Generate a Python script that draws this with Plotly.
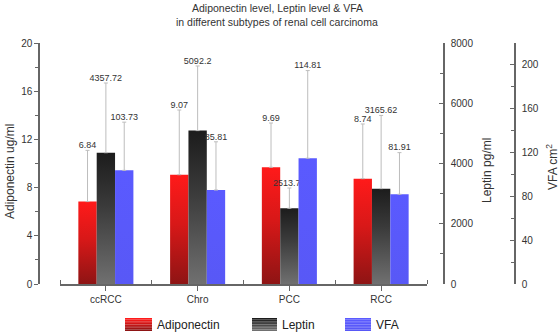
import plotly.graph_objects as go

# ---------------- data ----------------
categories = ["ccRCC", "Chro", "PCC", "RCC"]
adiponectin = [6.84, 9.07, 9.69, 8.74]
adiponectin_err = [4.25, 5.37, 3.67, 4.54]
leptin = [4357.72, 5092.2, 2513.76, 3165.62]
leptin_err = [2314, 2145, 673, 2430]
vfa = [103.73, 85.81, 114.81, 81.91]
vfa_err = [44, 44, 80, 38]

adipo_ticks = [0, 4, 8, 12, 16, 20]
leptin_ticks = [0, 2000, 4000, 6000, 8000]
vfa_ticks = [0, 40, 80, 120, 160, 200]

title_lines = ["Adiponectin level, Leptin level & VFA",
               "in different subtypes of renal cell carcinoma"]

# ---------------- style ----------------
FONT = "Liberation Sans, Arial, sans-serif"
AX = "#666666"
TXT = "#333333"
W, H = 559, 334
L, R, T, B = 39, 44, 43, 50
PW, PH = W - L - R, H - T - B

def px_x(px):
    return (px - L) / PW

def px_y(py):
    return (H - B - py) / PH

series = [
    dict(name="Adiponectin", vals=adiponectin, errs=adiponectin_err, axis="y",
         off=-0.2, grad=[[0, "#8e1414"], [0.55, "#d81818"], [1, "#ff1a1a"]]),
    dict(name="Leptin", vals=leptin, errs=leptin_err, axis="y2",
         off=0.0, grad=[[0, "#707070"], [0.6, "#3a3a3a"], [1, "#1c1c1c"]]),
    dict(name="VFA", vals=vfa, errs=vfa_err, axis="y3",
         off=0.2, grad=[[0, "#5858f6"], [1, "#5a5aff"]]),
]
BW = 0.2

fig = go.Figure()

# bars (gradient filled polygons on the data scales)
for s in series:
    for i, v in enumerate(s["vals"]):
        xc = i + s["off"]
        x0, x1 = xc - BW / 2, xc + BW / 2
        fig.add_trace(go.Scatter(
            x=[x0, x0, x1, x1, x0], y=[0, v, v, 0, 0],
            mode="lines", line=dict(width=0), fill="toself",
            fillgradient=dict(type="vertical", colorscale=s["grad"]),
            yaxis=s["axis"], showlegend=False, hoverinfo="skip",
        ))

# error bars (upper only)
for s in series:
    fig.add_trace(go.Scatter(
        x=[i + s["off"] for i in range(len(categories))], y=s["vals"],
        mode="markers", marker=dict(size=1, opacity=0),
        error_y=dict(type="data", array=s["errs"], arrayminus=[0] * len(s["errs"]),
                     symmetric=False, color="#bdbdbd", thickness=1, width=2),
        yaxis=s["axis"], showlegend=False, hoverinfo="skip",
    ))

# value labels above the error bars
for s in series:
    fig.add_trace(go.Scatter(
        x=[i + s["off"] for i in range(len(categories))],
        y=[v + e for v, e in zip(s["vals"], s["errs"])],
        mode="text", text=[str(v) for v in s["vals"]],
        textposition="top center",
        textfont=dict(family=FONT, size=9, color=TXT),
        yaxis=s["axis"], showlegend=False, hoverinfo="skip", cliponaxis=False,
    ))

common = dict(showgrid=False, zeroline=False, showline=True, linecolor=AX,
              linewidth=1.5, tickcolor=AX, tickfont=dict(family=FONT, size=10, color=TXT))

fig.update_layout(
    width=W, height=H,
    margin=dict(l=L, r=R, t=T, b=B),
    paper_bgcolor="white", plot_bgcolor="white",
    font=dict(family=FONT, color=TXT),
    xaxis=dict(domain=[px_x(60), px_x(427)], range=[-0.5, 3.5],
               tickmode="array", tickvals=list(range(len(categories))), ticktext=categories,
               ticks="outside", ticklen=5,
               minor=dict(tickmode="array", tickvals=[-0.5, 0.5, 1.5, 2.5, 3.5],
                          ticks="inside", ticklen=4, tickcolor=AX),
               anchor="y", **common),
    yaxis=dict(range=[0, 20], tickmode="array", tickvals=adipo_ticks,
               ticks="outside", ticklen=4,
               minor=dict(dtick=2, tick0=0, ticks="outside", ticklen=3, tickcolor=AX),
               anchor="free", position=0, **common),
    yaxis2=dict(range=[0, 8000], tickmode="array", tickvals=leptin_ticks,
                ticks="inside", ticklen=4, side="right", overlaying="y",
                minor=dict(dtick=1000, tick0=0, ticks="inside", ticklen=3, tickcolor=AX),
                anchor="free", position=px_x(444), ticklabelstandoff=4, **common),
    yaxis3=dict(range=[0, 220], tickmode="array", tickvals=vfa_ticks,
                ticks="inside", ticklen=4, side="right", overlaying="y",
                minor=dict(dtick=20, tick0=0, ticks="inside", ticklen=3, tickcolor=AX),
                anchor="free", position=1, ticklabelstandoff=4, **common),
    showlegend=False,
)

# chart title (two lines)
for line, py in zip(title_lines, [8, 22]):
    fig.add_annotation(text=line, x=0.5, xref="paper", y=px_y(py), yref="paper",
                       xanchor="center", yanchor="middle", showarrow=False,
                       font=dict(family=FONT, size=10.5, color=TXT))

# axis titles
titles = [("Adiponectin ug/ml", 10, 172), ("Leptin pg/ml", 487, 171), ("VFA cm<sup>2</sup>", 552, 167)]
for txt, x, y in titles:
    fig.add_annotation(text=txt, x=px_x(x), y=px_y(y), xref="paper", yref="paper",
                       textangle=-90, showarrow=False, xanchor="center", yanchor="middle",
                       font=dict(family=FONT, size=12, color=TXT))

# custom legend
def hexrgb(h):
    h = h.lstrip("#")
    return [int(h[k:k + 2], 16) for k in (0, 2, 4)]

def lerp(c0, c1, t):
    a, b = hexrgb(c0), hexrgb(c1)
    return "rgb(%d,%d,%d)" % tuple(round(a[k] + (b[k] - a[k]) * t) for k in range(3))

legend_items = [("Adiponectin", 125, 152, "#ff1a1a", "#8e1414"),
                ("Leptin", 252, 277, "#1c1c1c", "#707070"),
                ("VFA", 345, 371, "#5a5aff", "#5858f6")]
ly0, ly1 = 318, 331
nstripe = 8
for name, x0, x1, ctop, cbot in legend_items:
    for k in range(nstripe):
        ya = ly0 + (ly1 - ly0) * k / nstripe
        yb = ly0 + (ly1 - ly0) * (k + 1) / nstripe
        fig.add_shape(type="rect", xref="paper", yref="paper",
                      x0=px_x(x0), x1=px_x(x1), y0=px_y(ya), y1=px_y(yb),
                      line=dict(width=0), fillcolor=lerp(ctop, cbot, k / (nstripe - 1)),
                      layer="above")
    fig.add_annotation(text=name, x=px_x(x1 + 3), y=px_y((ly0 + ly1) / 2),
                       xref="paper", yref="paper", xanchor="left", yanchor="middle",
                       showarrow=False, font=dict(family=FONT, size=12, color="#222222"))

fig.write_html("out.html",
               config={"displayModeBar": False},
               post_script="document.body.style.margin='0';document.body.style.padding='0';"
                           "document.body.style.overflow='hidden';")
